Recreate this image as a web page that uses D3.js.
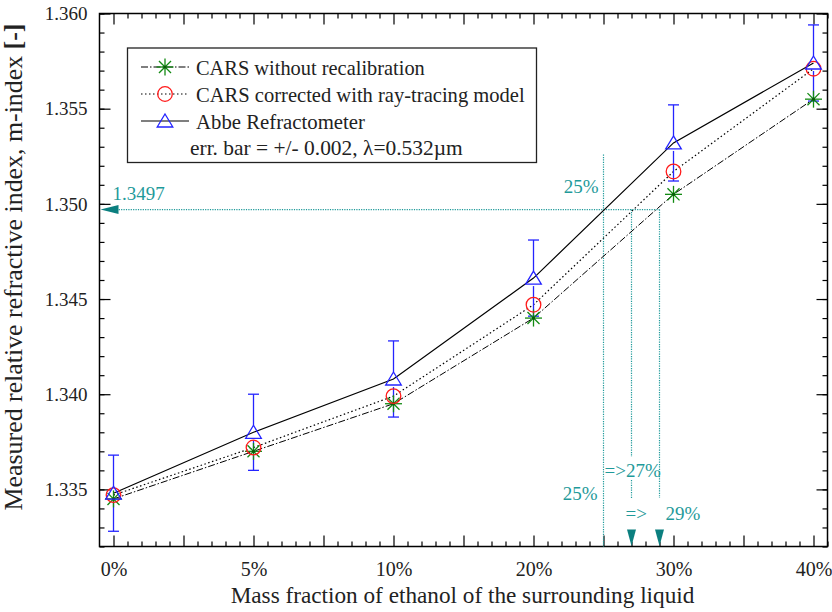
<!DOCTYPE html>
<html>
<head>
<meta charset="utf-8">
<script src="https://cdn.jsdelivr.net/npm/d3@7"></script>
<style>
  html, body { margin: 0; padding: 0; background: #fff; }
  svg { display: block; }
  text { font-family: "Liberation Serif", "LiberationSerif", "DejaVu Serif", "Times New Roman", Times, serif; }
</style>
</head>
<body>
<svg id="chart" width="832" height="612"></svg>
<script>
// ---------------- data ----------------
const categories = ["0%", "5%", "10%", "20%", "30%", "40%"];
const massFraction = [0, 5, 10, 20, 30, 40];
const carsRaw  = [1.3345, 1.3370, 1.3395, 1.3440, 1.3505, 1.3555];
const carsCorr = [1.3347, 1.3372, 1.3399, 1.3447, 1.3517, 1.3571];
const abbe     = [1.3348, 1.3380, 1.3408, 1.3461, 1.3532, 1.3574];
const errBar = 0.002;
const targetIndex = 1.3497;
const crossings = [25, 27, 29];
const legendLabels = ["CARS without recalibration", "CARS corrected with ray-tracing model", "Abbe Refractometer"];
const legendNote = "err. bar = +/- 0.002, \u03BB=0.532\u00B5m";

// ---------------- layout ----------------
const svg = d3.select("#chart");
const L = 99.5, R = 827.5, T = 13.5, B = 546.5;
const teal = "#1f9a9a", tealDark = "#0b7f7f";

// x: category index positions (evenly spaced ticks), with a piecewise map from % to index
const x = d3.scaleLinear().domain([-0.1, 5.1]).range([L, R]);
const pctToIdx = d3.scaleLinear().domain(massFraction).range(d3.range(massFraction.length));
const xp = p => x(pctToIdx(p));
const y = d3.scaleLinear().domain([1.332, 1.360]).range([B, T]);

// ---------------- axes ----------------
const majorX = d3.range(0, 5.01, 0.5);
const minorX = d3.range(0, 5.11, 0.1).filter(d => Math.abs(d * 2 - Math.round(d * 2)) > 1e-6);
const majorY = d3.range(1.335, 1.3601, 0.005);
const minorY = d3.range(1.332, 1.3601, 0.001);

function styleAxis(g) {
  g.select(".domain").remove();
  g.selectAll(".tick line").attr("stroke", "#000").attr("stroke-width", 1.2);
}
function fit(sel, target) {
  const w = sel.node().getComputedTextLength();
  const fs = parseFloat(sel.attr("font-size"));
  sel.attr("font-size", fs * target / w);
  return sel;
}

// bottom
svg.append("g").attr("transform", `translate(0,${B})`)
  .call(d3.axisBottom(x).tickValues(minorX).tickSize(-5).tickFormat(""))
  .call(styleAxis);
const gxb = svg.append("g").attr("transform", `translate(0,${B})`)
  .call(d3.axisBottom(x).tickValues(majorX).tickSize(-11)
    .tickFormat(d => Number.isInteger(d) ? categories[d] : ""))
  .call(styleAxis);
gxb.selectAll("text").attr("y", 29).attr("dy", 0).attr("font-size", 20).attr("fill", "#222");

// top (mirror)
svg.append("g").attr("transform", `translate(0,${T})`)
  .call(d3.axisTop(x).tickValues(minorX).tickSize(-5).tickFormat(""))
  .call(styleAxis);
svg.append("g").attr("transform", `translate(0,${T})`)
  .call(d3.axisTop(x).tickValues(majorX).tickSize(-11).tickFormat(""))
  .call(styleAxis);

// left
svg.append("g").attr("transform", `translate(${L},0)`)
  .call(d3.axisLeft(y).tickValues(minorY).tickSize(-5).tickFormat(""))
  .call(styleAxis);
const gyl = svg.append("g").attr("transform", `translate(${L},0)`)
  .call(d3.axisLeft(y).tickValues(majorY).tickSize(-11).tickPadding(12).tickFormat(d3.format(".3f")))
  .call(styleAxis);
gyl.selectAll("text").attr("font-size", 19).attr("fill", "#222").attr("dy", "0.33em");

// right (mirror)
svg.append("g").attr("transform", `translate(${R},0)`)
  .call(d3.axisRight(y).tickValues(minorY).tickSize(-5).tickFormat(""))
  .call(styleAxis);
svg.append("g").attr("transform", `translate(${R},0)`)
  .call(d3.axisRight(y).tickValues(majorY).tickSize(-11).tickFormat(""))
  .call(styleAxis);

// frame
svg.append("rect").attr("x", L).attr("y", T).attr("width", R - L).attr("height", B - T)
  .attr("fill", "none").attr("stroke", "#000").attr("stroke-width", 1.5);

// axis titles
const xt = svg.append("text").attr("x", (L + R) / 2 - 1).attr("y", 603)
  .attr("text-anchor", "middle").attr("font-size", 22).attr("fill", "#222")
  .text("Mass fraction of ethanol of the surrounding liquid");
fit(xt, 464);
const yt = svg.append("text").attr("transform", `translate(22,267) rotate(-90)`)
  .attr("text-anchor", "middle").attr("font-size", 22).attr("fill", "#222");
yt.append("tspan").text("Measured relative refractive index, m-index ");
yt.append("tspan").attr("font-weight", "bold").text("[-]");
fit(yt, 487);

// ---------------- annotation (teal) ----------------
const ann = svg.append("g");
const yT = y(targetIndex);
const dotted = "1.2,1.2";
ann.append("line").attr("x1", L + 12).attr("x2", xp(crossings[2])).attr("y1", yT).attr("y2", yT)
  .attr("stroke", teal).attr("stroke-width", 1.2).attr("stroke-dasharray", dotted);
ann.append("path")
  .attr("d", d3.line()([[L + 1, yT], [L + 19, yT - 4.5], [L + 19, yT + 4.5]]) + "Z")
  .attr("fill", tealDark);
ann.append("text").attr("x", L + 13).attr("y", yT - 10).attr("font-size", 19).attr("fill", teal)
  .text(d3.format(".4f")(targetIndex));

const vseg = (p, y1, y2) => ann.append("line").attr("x1", xp(p)).attr("x2", xp(p))
  .attr("y1", y1).attr("y2", y2).attr("stroke", teal).attr("stroke-width", 1.2).attr("stroke-dasharray", dotted);
vseg(crossings[0], yT - 55, B);
vseg(crossings[1], yT, 457);
vseg(crossings[1], 480, 498);
vseg(crossings[2], yT, 498);
[crossings[1], crossings[2]].forEach(p => {
  const cx = xp(p);
  ann.append("path")
    .attr("d", d3.line()([[cx - 4.5, B - 17], [cx + 4.5, B - 17], [cx, B - 0.5]]) + "Z")
    .attr("fill", tealDark);
});
const annText = (tx, ty, s, anchor) => ann.append("text").attr("x", tx).attr("y", ty)
  .attr("font-size", 19).attr("fill", teal).attr("text-anchor", anchor || "start").text(s);
annText(xp(crossings[0]) - 5, 193, crossings[0] + "%", "end");
annText(xp(crossings[0]) - 6, 500, crossings[0] + "%", "end");
annText(xp(crossings[0]) + 1, 477, "=>" + crossings[1] + "%");
annText(xp(crossings[1]) - 6, 520, "=>");
annText(xp(crossings[2]) + 6, 520, crossings[2] + "%");

// ---------------- series ----------------
const pts = vals => vals.map((v, i) => [x(i), y(v)]);
const line = d3.line();
const plot = svg.append("g");
plot.append("path").attr("d", line(pts(carsRaw))).attr("fill", "none")
  .attr("stroke", "#000").attr("stroke-width", 1).attr("stroke-dasharray", "7,2,1.5,2");
plot.append("path").attr("d", line(pts(carsCorr))).attr("fill", "none")
  .attr("stroke", "#000").attr("stroke-width", 1.2).attr("stroke-dasharray", "1.5,2.5");
plot.append("path").attr("d", line(pts(abbe))).attr("fill", "none")
  .attr("stroke", "#000").attr("stroke-width", 1.2);

const blue = "#2424ff", red = "#ff1a1a", green = "#138a13";

abbe.forEach((v, i) => {
  const cx = x(i), cy = y(v), ytop = y(v + errBar), ybot = y(v - errBar);
  const g = plot.append("g").attr("stroke", blue).attr("stroke-width", 1.3);
  g.append("line").attr("x1", cx).attr("x2", cx).attr("y1", ytop).attr("y2", cy - 7);
  g.append("line").attr("x1", cx).attr("x2", cx).attr("y1", cy + 8).attr("y2", ybot);
  g.append("line").attr("x1", cx - 5.5).attr("x2", cx + 5.5).attr("y1", ytop).attr("y2", ytop);
  g.append("line").attr("x1", cx - 5.5).attr("x2", cx + 5.5).attr("y1", ybot).attr("y2", ybot);
});

function star(g, cx, cy) {
  const r = 8.5;
  [0, 45, 90, 135].forEach(a => {
    const t = a * Math.PI / 180;
    g.append("line").attr("x1", cx - r * Math.cos(t)).attr("y1", cy - r * Math.sin(t))
      .attr("x2", cx + r * Math.cos(t)).attr("y2", cy + r * Math.sin(t))
      .attr("stroke", green).attr("stroke-width", 1.3);
  });
  g.append("circle").attr("cx", cx).attr("cy", cy).attr("r", 1.6).attr("fill", "#0a5a0a");
}
function circ(g, cx, cy) {
  g.append("circle").attr("cx", cx).attr("cy", cy).attr("r", 7.3)
    .attr("fill", "none").attr("stroke", red).attr("stroke-width", 1.3);
}
function tri(g, cx, cy) {
  g.append("path").attr("d", d3.line()([[cx, cy - 7], [cx + 7.8, cy + 6], [cx - 7.8, cy + 6]]) + "Z")
    .attr("fill", "none").attr("stroke", blue).attr("stroke-width", 1.3);
}
carsRaw.forEach((v, i) => star(plot, x(i), y(v)));
carsCorr.forEach((v, i) => circ(plot, x(i), y(v)));
abbe.forEach((v, i) => tri(plot, x(i), y(v)));

// ---------------- legend ----------------
const lg = svg.append("g");
lg.append("rect").attr("x", 127.5).attr("y", 48).attr("width", 409).attr("height", 114.5)
  .attr("fill", "#fff").attr("stroke", "#222").attr("stroke-width", 1.3);
const rowY = [67, 94, 121];
const dashes = ["7,2,1.5,2", "1.5,2.5", null];
const markers = [star, circ, tri];
const textW = [229, 329, 169];
legendLabels.forEach((lab, i) => {
  const ln = lg.append("line").attr("x1", 141).attr("x2", 189).attr("y1", rowY[i]).attr("y2", rowY[i])
    .attr("stroke", "#000").attr("stroke-width", i === 1 ? 1.2 : 1.1);
  if (dashes[i]) ln.attr("stroke-dasharray", dashes[i]);
  markers[i](lg, 165, rowY[i]);
  const t = lg.append("text").attr("x", 196).attr("y", rowY[i] + 7.5).attr("font-size", 20)
    .attr("fill", "#222").text(lab);
  fit(t, textW[i]);
});
const note = lg.append("text").attr("x", 190).attr("y", 155).attr("font-size", 19).attr("fill", "#222")
  .text(legendNote);
fit(note, 273);
</script>
</body>
</html>
